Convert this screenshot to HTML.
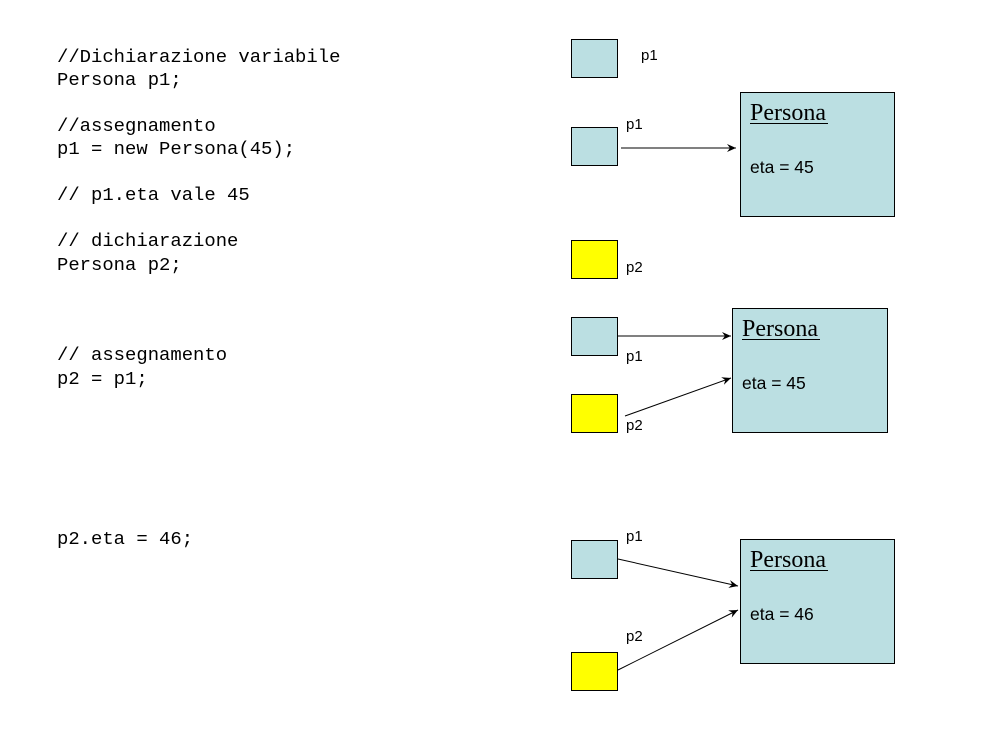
<!DOCTYPE html>
<html><head><style>body{margin:0;background:#fff}svg{display:block}</style></head>
<body>
<svg width="983" height="738" xmlns="http://www.w3.org/2000/svg">
<defs><marker id="a" markerWidth="10" markerHeight="8" refX="9" refY="4" orient="auto" markerUnits="userSpaceOnUse"><path d="M0,0 L9,4 L0,8 L3,4 Z" fill="#000"/></marker></defs>
<g font-family="Liberation Mono, monospace" font-size="18.9" fill="#000">
<text x="57" y="62">//Dichiarazione variabile</text>
<text x="57" y="85">Persona p1;</text>
<text x="57" y="131">//assegnamento</text>
<text x="57" y="154">p1 = new Persona(45);</text>
<text x="57" y="200">// p1.eta vale 45</text>
<text x="57" y="246">// dichiarazione</text>
<text x="57" y="270">Persona p2;</text>
<text x="57" y="360">// assegnamento</text>
<text x="57" y="384">p2 = p1;</text>
<text x="57" y="544">p2.eta = 46;</text>
</g>
<g stroke="#000" stroke-width="1">
<rect x="571.5" y="39.5" width="46" height="38" fill="#bbdfe2"/>
<rect x="571.5" y="127.5" width="46" height="38" fill="#bbdfe2"/>
<rect x="571.5" y="240.5" width="46" height="38" fill="#ffff00"/>
<rect x="571.5" y="317.5" width="46" height="38" fill="#bbdfe2"/>
<rect x="571.5" y="394.5" width="46" height="38" fill="#ffff00"/>
<rect x="571.5" y="540.5" width="46" height="38" fill="#bbdfe2"/>
<rect x="571.5" y="652.5" width="46" height="38" fill="#ffff00"/>
<rect x="740.5" y="92.5" width="154" height="124" fill="#bbdfe2"/>
<rect x="732.5" y="308.5" width="155" height="124" fill="#bbdfe2"/>
<rect x="740.5" y="539.5" width="154" height="124" fill="#bbdfe2"/>
<line x1="621" y1="148" x2="736" y2="148" marker-end="url(#a)"/>
<line x1="618" y1="336" x2="731" y2="336" marker-end="url(#a)"/>
<line x1="625" y1="416" x2="731" y2="378" marker-end="url(#a)"/>
<line x1="618" y1="559" x2="738" y2="586" marker-end="url(#a)"/>
<line x1="618" y1="670" x2="738" y2="610" marker-end="url(#a)"/>
</g>
<g font-family="Liberation Sans, sans-serif" font-size="15" fill="#000">
<text x="641" y="60">p1</text>
<text x="626" y="129">p1</text>
<text x="626" y="272">p2</text>
<text x="626" y="361">p1</text>
<text x="626" y="430">p2</text>
<text x="626" y="541">p1</text>
<text x="626" y="641">p2</text>
<text x="750" y="173" font-size="17.5">eta = 45</text>
<text x="742" y="389" font-size="17.5">eta = 45</text>
<text x="750" y="620" font-size="17.5">eta = 46</text>
</g>
<g font-family="Liberation Serif, serif" font-size="24" fill="#000">
<text x="750" y="120">Persona</text>
<text x="742" y="336">Persona</text>
<text x="750" y="567">Persona</text>
</g>
<g stroke="#000" stroke-width="1">
<line x1="750" y1="123.5" x2="828" y2="123.5"/>
<line x1="742" y1="339.5" x2="820" y2="339.5"/>
<line x1="750" y1="570.5" x2="828" y2="570.5"/>
</g>
</svg>
</body></html>
